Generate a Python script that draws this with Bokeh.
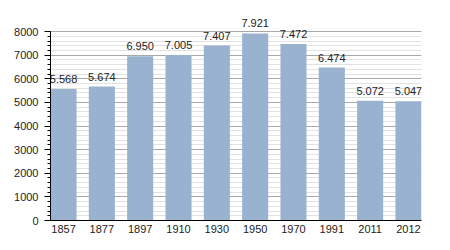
from bokeh.plotting import figure
from bokeh.models import Range1d, FixedTicker, SingleIntervalTicker, ColumnDataSource
from bokeh.core.properties import value
from bokeh.embed import file_html
from bokeh.resources import INLINE

years = ["1857", "1877", "1897", "1910", "1930", "1950", "1970", "1991", "2011", "2012"]
population = [5568, 5674, 6950, 7005, 7407, 7921, 7472, 6474, 5072, 5047]
value_labels = [f"{v:,}".replace(",", ".") for v in population]
positions = list(range(len(years)))

src = ColumnDataSource(dict(x=positions, top=population, lab=value_labels))

p = figure(width=450, height=250, output_backend="svg", toolbar_location=None,
           x_range=Range1d(-0.34, len(years) - 1 + 0.34), y_range=Range1d(0, 8850),
           min_border_left=50, min_border_right=29, min_border_top=11, min_border_bottom=30)
p.outline_line_color = None
p.background_fill_color = "white"
p.border_fill_color = "white"

p.vbar(x="x", top="top", bottom=0, width=0.68, source=src,
       fill_color="#98b2cf", line_color=None)
p.text(x="x", y="top", text="lab", source=src, text_align="center",
       text_baseline="alphabetic", y_offset=-10, text_font_size="11px",
       text_font=value("Liberation Sans"), text_color="#222222")

p.xgrid.grid_line_color = None
p.yaxis.ticker = SingleIntervalTicker(interval=1000, num_minor_ticks=5)
p.yaxis.bounds = (0, 8000)
p.ygrid.bounds = (0, 8000)
p.ygrid.grid_line_color = "#a8a8a8"
p.ygrid.minor_grid_line_color = "#e2e2e2"
p.ygrid.level = "underlay"

p.xaxis.ticker = FixedTicker(ticks=positions)
p.xaxis.major_label_overrides = {i: y for i, y in zip(positions, years)}
p.xaxis.major_tick_out = 0
p.xaxis.major_tick_in = 0
p.xaxis.minor_tick_out = 0
p.xaxis.major_label_standoff = 4

p.yaxis.major_tick_out = 6
p.yaxis.major_tick_in = 0
p.yaxis.minor_tick_out = 3
p.yaxis.minor_tick_in = 0
p.yaxis.major_label_standoff = 6

for ax in (p.xaxis, p.yaxis):
    ax.axis_line_color = "black"
    ax.major_tick_line_color = "black"
    ax.minor_tick_line_color = "black"
    ax.major_label_text_font = "Liberation Sans"
    ax.major_label_text_font_size = "11px"
    ax.major_label_text_color = "#222222"

open("out.html", "w").write(file_html(p, INLINE))
